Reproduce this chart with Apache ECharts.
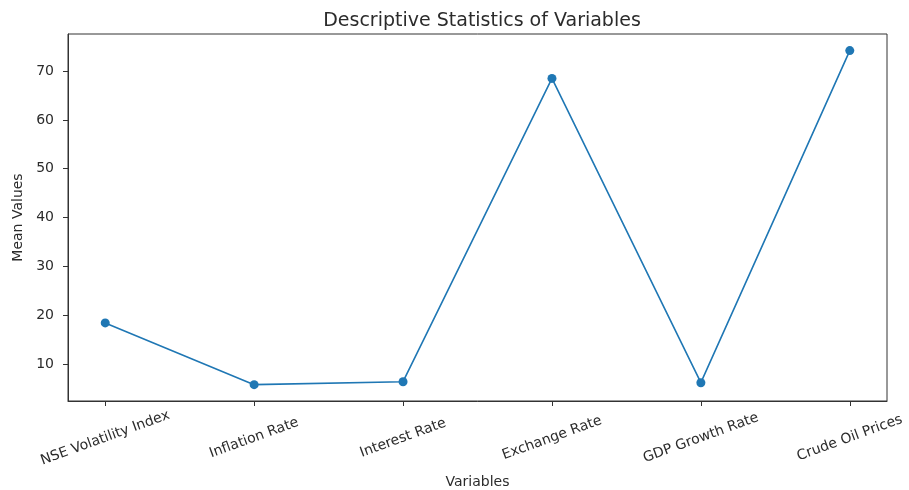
<!DOCTYPE html>
<html>
<head>
<meta charset="utf-8">
<script src="https://cdn.jsdelivr.net/npm/echarts@6/dist/echarts.min.js"></script>
<style>
  html, body { margin: 0; padding: 0; background: #fff; }
  #chart { width: 909px; height: 490px; }
</style>
</head>
<body>
<div id="chart"></div>
<script>
// categories and mean values
const categories = ['NSE Volatility Index', 'Inflation Rate', 'Interest Rate', 'Exchange Rate', 'GDP Growth Rate', 'Crude Oil Prices'];
const meanValues = [18.4, 5.75, 6.35, 68.5, 6.15, 74.2];
const yTicks = [10, 20, 30, 40, 50, 60, 70];

const chart = echarts.init(document.getElementById('chart'));
const font = 'DejaVu Sans';
const ink = '#2b2b2b';

// x positions are category indexes, matplotlib style 5% margins
const xIdx = categories.map((c, i) => i);

const option = {
  backgroundColor: '#fff',
  animation: false,
  title: {
    text: 'Descriptive Statistics of Variables',
    left: 477,
    textAlign: 'center',
    top: 7,
    textStyle: { fontFamily: font, fontSize: 19, fontWeight: 'normal', color: ink }
  },
  grid: {
    left: 68, right: 22, top: 34, bottom: 89,
    show: true,
    borderColor: '#333',
    borderWidth: 1,
    containLabel: false,
    outerBoundsMode: 'none'
  },
  xAxis: {
    type: 'value',
    min: -0.25,
    max: 5.25,
    name: 'Variables',
    nameLocation: 'middle',
    nameGap: 74,
    nameTextStyle: { fontFamily: font, fontSize: 14, color: ink },
    axisLine: { show: true, onZero: false, lineStyle: { color: '#333', width: 1 } },
    axisTick: { show: true, customValues: xIdx, length: 5, lineStyle: { color: '#333' } },
    splitLine: { show: false },
    axisLabel: {
      customValues: xIdx,
      rotate: 20,
      align: 'center',
      verticalAlign: 'middle',
      margin: 37,
      fontFamily: font,
      fontSize: 14,
      color: ink,
      formatter: v => categories[Math.round(v)]
    }
  },
  yAxis: {
    type: 'value',
    min: 2.4,
    max: 77.6,
    name: 'Mean Values',
    nameLocation: 'middle',
    nameGap: 42,
    nameTextStyle: { fontFamily: font, fontSize: 14, color: ink },
    axisLine: { show: true, onZero: false, lineStyle: { color: '#333', width: 1 } },
    axisTick: { show: true, customValues: yTicks, length: 5, lineStyle: { color: '#333' } },
    splitLine: { show: false },
    axisLabel: {
      customValues: yTicks,
      margin: 14,
      fontFamily: font,
      fontSize: 14,
      color: ink
    }
  },
  series: [{
    type: 'line',
    data: meanValues.map((v, i) => [xIdx[i], v]),
    symbol: 'circle',
    symbolSize: 9,
    itemStyle: { color: '#1f77b4' },
    lineStyle: { color: '#1f77b4', width: 1.6 }
  }]
};

chart.setOption(option);
</script>
</body>
</html>
